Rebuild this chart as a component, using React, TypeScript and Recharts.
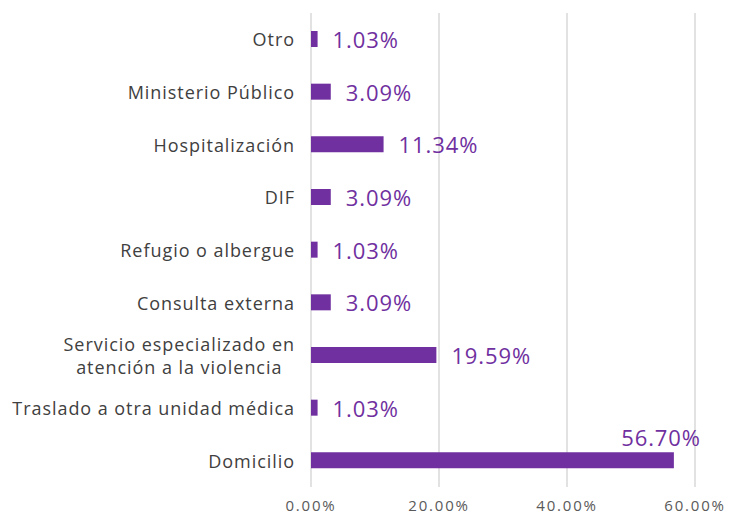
import React from 'react';
import { BarChart, Bar, XAxis, YAxis, CartesianGrid, LabelList } from 'recharts';

const categories = [
  'Otro',
  'Ministerio Público',
  'Hospitalización',
  'DIF',
  'Refugio o albergue',
  'Consulta externa',
  'Servicio especializado en\natención a la violencia',
  'Traslado a otra unidad médica',
  'Domicilio',
];
const values = [1.03, 3.09, 11.34, 3.09, 1.03, 3.09, 19.59, 1.03, 56.7];
const xTicks = [0, 20, 40, 60];

const data = categories.map((name, i) => ({ name, value: values[i] }));

const FONT = '"Open Sans", sans-serif';
const PURPLE = '#7030A0';
const CAT_SIZE = 18;
const CAT_LS = 0.95;

let ctx: CanvasRenderingContext2D | null = null;
const measure = (text: string, font: string, ls: number) => {
  if (!ctx) ctx = document.createElement('canvas').getContext('2d');
  if (!ctx) return text.length * 9;
  ctx.font = font;
  return ctx.measureText(text).width + ls * text.length;
};

const CategoryTick = (props: any) => {
  const { x, y, payload } = props;
  const lines: string[] = String(payload.value).split('\n');
  const common = {
    dominantBaseline: 'central' as const,
    fontSize: CAT_SIZE,
    fill: '#404040',
    fontFamily: FONT,
    letterSpacing: CAT_LS,
  };
  if (lines.length === 1) {
    return (
      <text x={x} y={y} textAnchor="end" {...common}>
        {lines[0]}
      </text>
    );
  }
  // multi-line labels are centered on the longest line, like Excel does
  const widest = Math.max(...lines.map((l) => measure(l, `${CAT_SIZE}px ${FONT}`, CAT_LS)));
  const cx = x - widest / 2;
  const lh = 23;
  const y0 = y - ((lines.length - 1) * lh) / 2;
  return (
    <text textAnchor="middle" {...common}>
      {lines.map((l, i) => (
        <tspan key={i} x={cx} y={y0 + i * lh}>
          {l}
        </tspan>
      ))}
    </text>
  );
};

const ValueLabel = (props: any) => {
  const { x, y, width, height, value } = props;
  const text = `${Number(value).toFixed(2)}%`;
  const style = { fontSize: 22, fill: PURPLE, fontFamily: FONT, letterSpacing: 0.9 };
  if (value > 50) {
    // too long to fit on the right, so it sits above the bar end
    return (
      <text x={x + width + 27} y={y - 15} textAnchor="end" dominantBaseline="central" {...style}>
        {text}
      </text>
    );
  }
  return (
    <text x={x + width + 15} y={y + height / 2} textAnchor="start" dominantBaseline="central" {...style}>
      {text}
    </text>
  );
};

export default function App() {
  return (
    <div style={{ position: 'absolute', left: 0, top: 0, width: 729, height: 514, background: '#fff' }}>
      <BarChart
        width={729}
        height={514}
        data={data}
        layout="vertical"
        margin={{ top: 13, right: 34, left: 0, bottom: 0 }}
      >
        <CartesianGrid horizontal={false} stroke="#d9d9d9" strokeWidth={1.5} />
        <XAxis
          type="number"
          domain={[0, 60]}
          ticks={xTicks}
          tickFormatter={(v: number) => `${v.toFixed(2)}%`}
          axisLine={false}
          tickLine={false}
          tickSize={0}
          tickMargin={13}
          height={27}
          tick={{ fontSize: 15, fill: '#595959', fontFamily: FONT, letterSpacing: 1.8 }}
        />
        <YAxis
          type="category"
          dataKey="name"
          width={311}
          axisLine={false}
          tickLine={false}
          tickSize={0}
          tickMargin={16}
          interval={0}
          tick={<CategoryTick />}
        />
        <Bar dataKey="value" fill={PURPLE} barSize={16} isAnimationActive={false}>
          <LabelList dataKey="value" content={<ValueLabel />} />
        </Bar>
      </BarChart>
    </div>
  );
}
